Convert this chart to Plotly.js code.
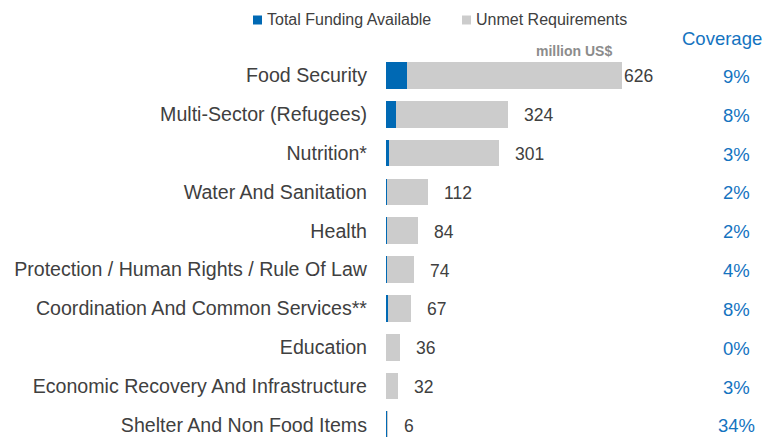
<!DOCTYPE html>
<html>
<head>
<meta charset="utf-8">
<script src="https://cdn.plot.ly/plotly-3.0.1.min.js"></script>
<style>html,body{margin:0;padding:0;background:#fff;}#chart{width:772px;height:437px;}</style>
</head>
<body>
<div id="chart"></div>
<script>
// ---- data ----
const categories = [
  "Food Security",
  "Multi-Sector (Refugees)",
  "Nutrition*",
  "Water And Sanitation",
  "Health",
  "Protection / Human Rights / Rule Of Law",
  "Coordination And Common Services**",
  "Education",
  "Economic Recovery And Infrastructure",
  "Shelter And Non Food Items"
];
const fundingAvailable = [56, 26, 9, 2, 2, 3, 5, 0, 1, 2];
const unmetRequirements = [570, 298, 292, 110, 82, 71, 62, 36, 31, 4];
const totalLabels = ["626", "324", "301", "112", "84", "74", "67", "36", "32", "6"];
const totalValues = [626, 324, 301, 112, 84, 74, 67, 36, 32, 6];
const coverageLabels = ["9%", "8%", "3%", "2%", "2%", "4%", "8%", "0%", "3%", "34%"];

// ---- layout helpers ----
const W = 772, H = 437;
const mL = 386, mT = 56, mR = 0, mB = 0;
const plotW = W - mL - mR, plotH = H - mT - mB;
const px2x = px => (px - mL) / plotW;
const py2y = py => 1 - (py - mT) / plotH;

const BLUE = "#0069B4", GREY = "#CCCCCC", TEXT = "#404040", COVER = "#1473BF";
const FONT = "Liberation Sans, Arial, sans-serif";

const traces = [
  {type: "bar", orientation: "h", name: "Total Funding Available",
   y: categories, x: fundingAvailable, marker: {color: BLUE, line: {width: 0}},
   width: 0.69, hoverinfo: "x+y"},
  {type: "bar", orientation: "h", name: "Unmet Requirements",
   y: categories, x: unmetRequirements, marker: {color: GREY, line: {width: 0}},
   width: 0.69, hoverinfo: "x+y"}
];

const annotations = [];
categories.forEach((c, i) => {
  annotations.push({x: totalValues[i], y: c, xref: "x", yref: "y", text: totalLabels[i],
    showarrow: false, xanchor: "left", yanchor: "middle", xshift: i === 0 ? 0 : 14, yshift: -1,
    font: {family: FONT, size: 17.5, color: TEXT}});
  annotations.push({x: px2x(736), y: c, xref: "paper", yref: "y", text: coverageLabels[i],
    showarrow: false, xanchor: "center", yanchor: "middle", yshift: -1,
    font: {family: FONT, size: 18.5, color: COVER}});
});
annotations.push({x: px2x(722), y: py2y(39), xref: "paper", yref: "paper", text: "Coverage",
  showarrow: false, xanchor: "center", yanchor: "middle",
  font: {family: FONT, size: 18.5, color: COVER}});
annotations.push({x: px2x(614), y: py2y(51), xref: "paper", yref: "paper", text: "<b>million US$</b>",
  showarrow: false, xanchor: "right", yanchor: "middle",
  font: {family: FONT, size: 14, color: "#8C8C8C"}});
annotations.push({x: px2x(265), y: py2y(19.5), xref: "paper", yref: "paper", text: "Total Funding Available",
  showarrow: false, xanchor: "left", yanchor: "middle",
  font: {family: FONT, size: 16, color: TEXT}});
annotations.push({x: px2x(473.5), y: py2y(19.5), xref: "paper", yref: "paper", text: "Unmet Requirements",
  showarrow: false, xanchor: "left", yanchor: "middle",
  font: {family: FONT, size: 16, color: TEXT}});

const shapes = [
  {type: "rect", xref: "paper", yref: "paper", x0: px2x(253), x1: px2x(262), y0: py2y(24.5), y1: py2y(15.5),
   fillcolor: BLUE, line: {width: 0}},
  {type: "rect", xref: "paper", yref: "paper", x0: px2x(462), x1: px2x(471), y0: py2y(24.5), y1: py2y(15.5),
   fillcolor: GREY, line: {width: 0}}
];

const layout = {
  width: W, height: H,
  margin: {l: mL, r: mR, t: mT, b: mB, pad: 0},
  barmode: "stack",
  showlegend: false,
  paper_bgcolor: "#ffffff", plot_bgcolor: "#ffffff",
  font: {family: FONT, color: TEXT},
  xaxis: {range: [0, plotW / 0.3769], visible: false, fixedrange: true},
  yaxis: {type: "category", categoryorder: "array", categoryarray: categories,
    range: [-0.5 + plotH / 38.83, -0.5], autorange: false,
    showgrid: false, zeroline: false, showline: false, ticks: "",
    ticklabelstandoff: 18,
    tickfont: {family: FONT, size: 19.6, color: TEXT}},
  annotations: annotations,
  shapes: shapes
};

Plotly.newPlot("chart", traces, layout, {displayModeBar: false, staticPlot: true});
</script>
</body>
</html>
